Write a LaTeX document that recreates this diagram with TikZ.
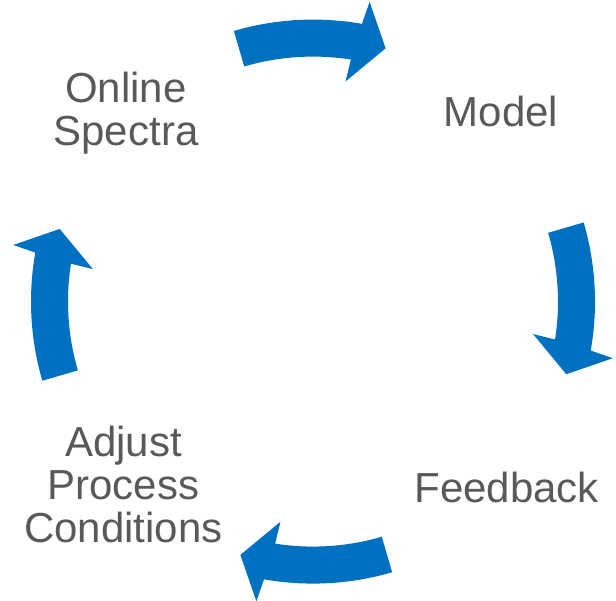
\documentclass[tikz,border=0pt]{standalone}
\usepackage{fontspec}
\setmainfont{Liberation Sans}
\definecolor{cycleblue}{RGB}{0,112,192}
\definecolor{labelgray}{RGB}{89,89,89}
\begin{document}
\begin{tikzpicture}[x=1pt,y=1pt,
  cyclelabel/.style={font=\fontsize{42pt}{43pt}\selectfont, text=labelgray, inner sep=0pt, align=center},
  cyclearrow/.style={fill=cycleblue, draw=none}]
\useasboundingbox (0,0) rectangle (616,601);
\begin{scope}[shift={(313,299.4)}]
\foreach \t in {106.3,16.3,-73.7,196.3} {
  \fill[cyclearrow] ({\t}:282pt) arc[start angle=\t, end angle=\t-26.3, radius=282pt]
    -- ({\t-27}:305pt) -- ({\t-32.3}:263.5pt) -- ({\t-24.7}:222.5pt)
    -- ({\t-25.2}:245pt) arc[start angle=\t-25.2, end angle=\t, radius=245pt] -- cycle;
}
\end{scope}
\node[cyclelabel, anchor=base] (model) at (501,474.3) {Model};
\node[cyclelabel, anchor=base] (feedback) at (506.7,98.7) {Feedback};
\node[cyclelabel, anchor=base] (online) at (126,455.3) {Online\\Spectra};
\node[cyclelabel, anchor=base] (adjust) at (123.5,58.3) {Adjust\\Process\\Conditions};
\end{tikzpicture}
\end{document}
